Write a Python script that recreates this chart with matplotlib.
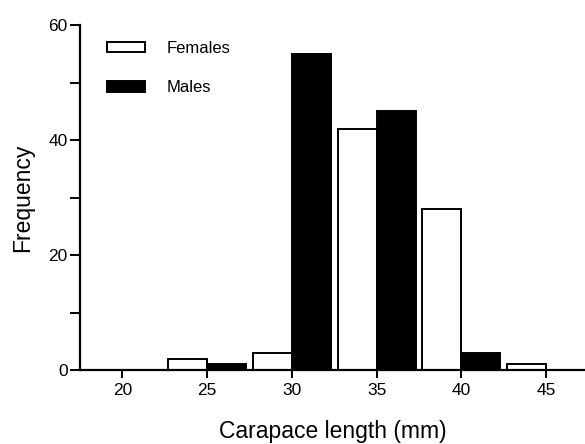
import matplotlib
matplotlib.use("Agg")
import matplotlib.pyplot as plt
import numpy as np
from matplotlib.patches import Patch

plt.rcParams['font.family'] = ['Liberation Sans', 'DejaVu Sans']

# size classes (upper bound of each 5 mm bin)
bins = [25, 30, 35, 40, 45]
females = [2, 3, 42, 28, 1]
males = [1, 55, 45, 3, 0]

fig = plt.figure(figsize=(5.85, 4.44), dpi=100)
ax = fig.add_axes([80 / 585, 1 - 370 / 444, 1 - 80 / 585, (370 - 25) / 444])

w = 2.3
x = np.array(bins, dtype=float)
ax.bar(x - w / 2, females, width=w, color='white', edgecolor='black', linewidth=1.4, label='Females')
ax.bar(x + w / 2, males, width=w, color='black', edgecolor='black', linewidth=1.4, label='Males')

ax.set_xlim(17.5, 47.3)
ax.set_ylim(0, 60)
ax.set_xticks([20, 25, 30, 35, 40, 45])
ax.set_yticks([0, 20, 40, 60])
ax.set_yticks([10, 30, 50], minor=True)
ax.tick_params(axis='x', which='both', length=6, width=1.4, labelsize=12.5, pad=3.5)
ax.tick_params(axis='y', which='both', length=7, width=1.4, labelsize=12.5, pad=2)

for s in ['top', 'right']:
    ax.spines[s].set_visible(False)
for s in ['left', 'bottom']:
    ax.spines[s].set_linewidth(1.6)

ax.set_xlabel('Carapace length (mm)', fontsize=16.5, labelpad=16)
ax.set_ylabel('Frequency', fontsize=16.5, labelpad=10)

handles = [Patch(facecolor='white', edgecolor='black', linewidth=1.4),
           Patch(facecolor='black', edgecolor='black', linewidth=1.4)]
ax.legend(handles, ['Females', 'Males'], loc='upper left',
          bbox_to_anchor=(107 / 585, 1 - 41 / 444), bbox_transform=fig.transFigure,
          frameon=False, fontsize=12, borderpad=0, borderaxespad=0,
          handlelength=2.3, handleheight=0.6,
          labelspacing=1.45, handletextpad=1.25)

fig.savefig('out.png', dpi=100)
